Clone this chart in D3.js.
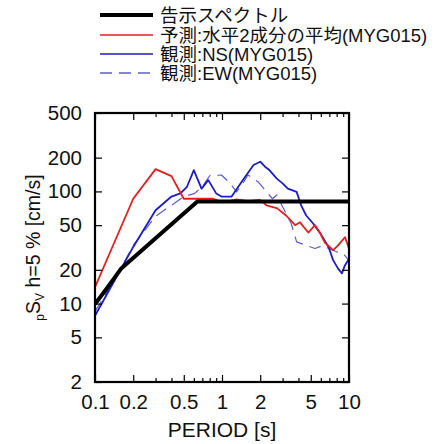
<!DOCTYPE html>
<html>
<head>
<meta charset="utf-8">
<script src="https://cdn.jsdelivr.net/npm/d3@7"></script>
<style>
  body { margin: 0; background: #fff; }
  text { font-family: "Liberation Sans", "Noto Sans CJK JP", sans-serif; }
</style>
</head>
<body>
<div id="chart"></div>
<script>
// period [s] / pSv [cm/s] pairs
const kokujiT = [0.1, 0.12, 0.14, 0.16, 0.64, 10];
const kokujiV = [9.9, 13.0, 16.5, 20.4, 81.5, 81.5];

const predT = [0.1, 0.2, 0.3, 0.4, 0.5, 0.63, 0.8, 0.85, 1.02, 1.3, 1.6, 1.99, 2.24, 2.7, 3.2, 3.77, 4.11, 4.78, 5.4, 5.9, 6.45, 7.04, 7.5, 8.2, 9.3, 10];
const predV = [14, 86, 158, 137, 86, 86, 86, 86, 80, 85, 82, 84, 75, 71, 61, 50, 53, 43, 50, 43, 35, 32, 30, 33, 39, 31];

const nsT = [0.1, 0.2, 0.3, 0.4, 0.47, 0.53, 0.6, 0.69, 0.78, 0.9, 0.99, 1.19, 1.43, 1.77, 2.0, 2.18, 2.36, 2.7, 3.0, 3.3, 3.87, 4.2, 4.6, 5.2, 6.05, 6.9, 7.5, 8.2, 8.8, 9.3, 10];
const nsV = [7.8, 32, 68, 90, 96, 110, 155, 106, 126, 96, 90, 90, 122, 172, 184, 166, 155, 130, 118, 106, 99, 75, 61, 52, 41, 32, 24.4, 20.5, 18.6, 22, 25];

const ewT = [0.1, 0.15, 0.2, 0.3, 0.35, 0.42, 0.5, 0.61, 0.7, 0.8, 0.99, 1.16, 1.3, 1.43, 1.6, 1.92, 2.24, 2.5, 2.7, 3.0, 3.5, 3.87, 4.6, 5.4, 6.25, 6.9, 8.0, 9.0, 10];
const ewV = [8.5, 18, 33, 60, 68, 78, 90, 96, 110, 138, 140, 118, 99, 114, 140, 122, 99, 86, 93, 73, 52, 35.5, 33, 31, 33, 31, 29, 28, 24];

const xTicks = [0.1, 0.2, 0.5, 1, 2, 5, 10];
const xMinor = [0.3, 0.4, 0.6, 0.7, 0.8, 0.9, 3, 4, 6, 7, 8, 9];
const yTicks = [500, 200, 100, 50, 20, 10, 5, 2];

const legendNames = ["告示スペクトル", "予測:水平2成分の平均(MYG015)", "観測:NS(MYG015)", "観測:EW(MYG015)"];

const W = 434, H = 444;
const L = 95, R = 349, T = 113, B = 382;

const svg = d3.select("#chart").append("svg")
  .attr("width", W).attr("height", H);

const x = d3.scaleLog().domain([0.1, 10]).range([L, R]);
const y = d3.scaleLog().domain([2, 500]).range([B, T]);

// curves
const series = [
  {t: kokujiT, v: kokujiV, color: "#000", width: 4, dash: null},
  {t: predT, v: predV, color: "#e41e1e", width: 1.8, dash: null},
  {t: nsT, v: nsV, color: "#1c1cc8", width: 1.8, dash: null},
  {t: ewT, v: ewV, color: "#5c5ccc", width: 1.2, dash: "12,7"}
];

const line = d3.line().x(d => x(d[0])).y(d => y(d[1]));

svg.append("clipPath").attr("id", "clip")
  .append("rect").attr("x", L).attr("y", T).attr("width", R - L).attr("height", B - T);

const plot = svg.append("g").attr("clip-path", "url(#clip)");

// draw light series first so black stays on top of the flat part
[3, 2, 1, 0].forEach(i => {
  const s = series[i];
  plot.append("path")
    .datum(d3.zip(s.t, s.v))
    .attr("d", line)
    .attr("fill", "none")
    .attr("stroke", s.color)
    .attr("stroke-width", s.width)
    .attr("stroke-dasharray", s.dash)
    .attr("stroke-linejoin", "round");
});

// axes with inward ticks
const fmt = d => String(d);
svg.append("g").attr("transform", `translate(0,${B})`)
  .call(d3.axisBottom(x).tickValues(xTicks).tickFormat(fmt).tickSizeInner(-7).tickSizeOuter(0).tickPadding(12))
  .call(g => g.select(".domain").remove());
svg.append("g").attr("transform", `translate(0,${B})`)
  .call(d3.axisBottom(x).tickValues(xMinor).tickFormat("").tickSizeInner(-4).tickSizeOuter(0))
  .call(g => g.select(".domain").remove());
svg.append("g").attr("transform", `translate(0,${T})`)
  .call(d3.axisTop(x).tickValues(xTicks).tickFormat("").tickSizeInner(-7).tickSizeOuter(0))
  .call(g => g.select(".domain").remove());
svg.append("g").attr("transform", `translate(0,${T})`)
  .call(d3.axisTop(x).tickValues(xMinor).tickFormat("").tickSizeInner(-4).tickSizeOuter(0))
  .call(g => g.select(".domain").remove());
svg.append("g").attr("transform", `translate(${L},0)`)
  .call(d3.axisLeft(y).tickValues(yTicks).tickFormat(fmt).tickSizeInner(-7).tickSizeOuter(0).tickPadding(13))
  .call(g => g.select(".domain").remove());
svg.append("g").attr("transform", `translate(${R},0)`)
  .call(d3.axisRight(y).tickValues(yTicks).tickFormat("").tickSizeInner(-7).tickSizeOuter(0))
  .call(g => g.select(".domain").remove());

svg.selectAll(".tick line").attr("stroke", "#000").attr("stroke-width", 1.2);
svg.selectAll(".tick text")
  .attr("fill", "#111")
  .style("font-size", "20.5px")
  .style("font-family", "'Liberation Sans', sans-serif");

// frame
svg.append("rect")
  .attr("x", L).attr("y", T).attr("width", R - L).attr("height", B - T)
  .attr("fill", "none").attr("stroke", "#000").attr("stroke-width", 2.2);

// axis titles
svg.append("text")
  .attr("x", 222).attr("y", 437)
  .attr("text-anchor", "middle")
  .style("font-size", "21px").attr("fill", "#111")
  .text("PERIOD [s]");

const yl = svg.append("text")
  .attr("transform", `translate(40,${(T + B) / 2}) rotate(-90)`)
  .attr("text-anchor", "middle")
  .style("font-size", "19.5px").attr("fill", "#111");
yl.append("tspan").style("font-size", "12px").attr("dy", 4).text("p");
yl.append("tspan").attr("dy", -4).text("S");
yl.append("tspan").style("font-size", "12px").attr("dy", 4).text("V");
yl.append("tspan").attr("dy", -4).text(" h=5 % [cm/s]");

// legend
const leg = svg.append("g");
const rowsY = [15, 35, 54, 73];
series.forEach((s, i) => {
  leg.append("line")
    .attr("x1", 100).attr("x2", 153)
    .attr("y1", rowsY[i]).attr("y2", rowsY[i])
    .attr("stroke", s.color)
    .attr("stroke-width", i === 0 ? 4 : 1.5)
    .attr("stroke-dasharray", s.dash);
  leg.append("text")
    .attr("x", 160).attr("y", rowsY[i] + 6.5)
    .style("font-size", "18.5px").attr("fill", "#111")
    .text(legendNames[i]);
});
</script>
</body>
</html>
